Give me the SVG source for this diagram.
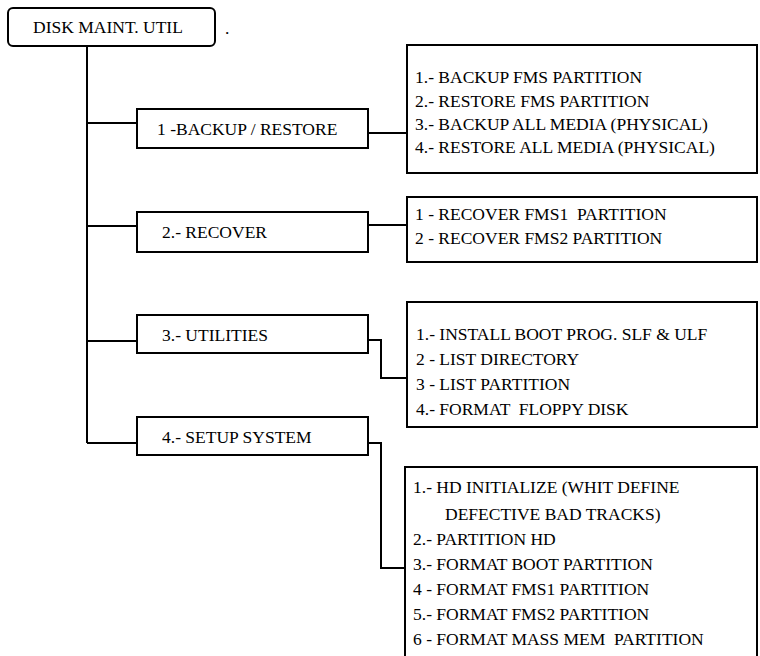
<svg xmlns="http://www.w3.org/2000/svg" width="760" height="656" viewBox="0 0 760 656">
<style>
.box{fill:#fff;stroke:#000;stroke-width:2}
.ln{fill:none;stroke:#000;stroke-width:2}
text{font-family:"Liberation Serif","Times New Roman",serif;font-size:17.5px;fill:#000;white-space:pre}
</style>
<rect width="760" height="656" fill="#fff"/>
<g id="connectors">
<path class="ln" d="M87,46 V443 M87,123 H137 M87,226 H137 M87,341 H137 M87,443 H137"/>
<path class="ln" d="M368,133 H407"/>
<path class="ln" d="M368,225 H407"/>
<path class="ln" d="M368,340 H381 V378 H407"/>
<path class="ln" d="M368,443 H381 V568 H405"/>
</g>
<g id="root">
<rect class="box" x="8" y="8" width="207" height="38" rx="5"/>
<text x="33" y="33">DISK MAINT. UTIL</text>
<text x="225" y="34">.</text>
</g>
<g id="n1">
<rect class="box" x="137" y="109" width="231" height="39"/>
<text x="157" y="135">1 -BACKUP / RESTORE</text>
</g>
<g id="n2">
<rect class="box" x="137" y="212" width="231" height="40"/>
<text x="162" y="238">2.- RECOVER</text>
</g>
<g id="n3">
<rect class="box" x="137" y="315" width="231" height="38"/>
<text x="162" y="341">3.- UTILITIES</text>
</g>
<g id="n4">
<rect class="box" x="137" y="417" width="231" height="38"/>
<text x="162" y="443">4.- SETUP SYSTEM</text>
</g>
<g id="l1">
<rect class="box" x="407" y="45" width="350" height="128"/>
<text x="415" y="83">1.- BACKUP FMS PARTITION</text>
<text x="415" y="107">2.- RESTORE FMS PARTITION</text>
<text x="415" y="130">3.- BACKUP ALL MEDIA (PHYSICAL)</text>
<text x="415" y="153">4.- RESTORE ALL MEDIA (PHYSICAL)</text>
</g>
<g id="l2">
<rect class="box" x="407" y="197" width="350" height="65"/>
<text x="415" y="220" xml:space="preserve">1 - RECOVER FMS1  PARTITION</text>
<text x="415" y="244">2 - RECOVER FMS2 PARTITION</text>
</g>
<g id="l3">
<rect class="box" x="407" y="302" width="350" height="125"/>
<text x="416" y="340">1.- INSTALL BOOT PROG. SLF &amp; ULF</text>
<text x="416" y="365">2 - LIST DIRECTORY</text>
<text x="416" y="390">3 - LIST PARTITION</text>
<text x="416" y="415" xml:space="preserve">4.- FORMAT  FLOPPY DISK</text>
</g>
<g id="l4">
<rect class="box" x="405" y="467" width="352" height="200"/>
<text x="413" y="493">1.- HD INITIALIZE (WHIT DEFINE</text>
<text x="445" y="520">DEFECTIVE BAD TRACKS)</text>
<text x="413" y="545">2.- PARTITION HD</text>
<text x="413" y="570">3.- FORMAT BOOT PARTITION</text>
<text x="413" y="595">4 - FORMAT FMS1 PARTITION</text>
<text x="413" y="620">5.- FORMAT FMS2 PARTITION</text>
<text x="413" y="645" xml:space="preserve">6 - FORMAT MASS MEM  PARTITION</text>
</g>
</svg>
